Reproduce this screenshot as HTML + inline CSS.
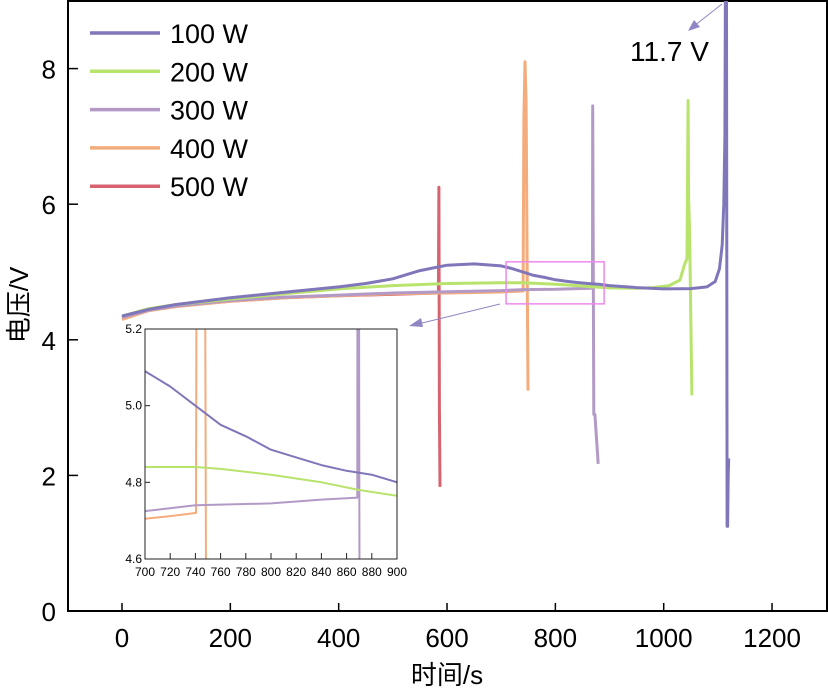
<!DOCTYPE html>
<html><head><meta charset="utf-8"><style>
html,body{margin:0;background:#fff;width:828px;height:697px;overflow:hidden}
svg{display:block;font-family:"Liberation Sans","Noto Sans CJK SC",sans-serif}
</style></head><body>
<svg id="chart" width="828" height="697" viewBox="0 0 828 697"></svg>
<script>
const seriesNames=["100 W","200 W","300 W","400 W","500 W"];
const seriesColors=["#7f77b9","#b8e36c","#b39ac6","#f4ac7c","#d6636f"];
const t100=[0,50,100,200,300,400,450,500,550,600,650,700,720,740,760,780,800,820,840,860,880,900,950,1000,1050,1080,1095,1103,1108,1111,1113,1115,1116,1117,1118,1119,1120];
const v100=[4.35,4.45,4.52,4.62,4.7,4.78,4.83,4.9,5.02,5.1,5.12,5.09,5.05,5.0,4.95,4.92,4.885,4.865,4.845,4.83,4.82,4.80,4.77,4.75,4.755,4.78,4.86,5.05,5.4,6.0,7.0,11.7,9,1.25,1.25,2.0,2.25];
const t200=[0,50,100,200,300,400,500,600,700,740,760,800,840,870,900,950,980,1010,1030,1038,1043,1045,1046,1047,1048,1052];
const v200=[4.35,4.46,4.52,4.6,4.68,4.75,4.8,4.83,4.84,4.84,4.835,4.82,4.80,4.78,4.765,4.76,4.77,4.8,4.88,5.1,5.2,7.53,6.1,5.8,5.5,3.18];
const t300=[0,50,100,200,300,400,500,600,700,740,800,840,867,868.5,869,870,871,873,879];
const v300=[4.33,4.44,4.5,4.58,4.63,4.66,4.69,4.71,4.725,4.74,4.745,4.755,4.76,4.76,7.45,5.0,2.9,2.9,2.17];
const t400=[0,50,100,200,300,400,500,600,700,720,740,740.5,742,744,746,748,749.5];
const v400=[4.3,4.43,4.49,4.57,4.62,4.65,4.68,4.69,4.705,4.712,4.72,4.72,7.3,8.1,7.5,5.0,3.25];
const t500=[0,50,100,200,300,400,500,580,584,585,586,587];
const v500=[4.33,4.44,4.5,4.57,4.62,4.65,4.67,4.69,4.69,6.25,3.0,1.83];
const allT=[t100,t200,t300,t400,t500], allV=[v100,v200,v300,v400,v500];
const xTicks=[0,200,400,600,800,1000,1200], yTicks=[0,2,4,6,8];
const insetXTicks=[700,720,740,760,780,800,820,840,860,880,900], insetYTicks=[4.6,4.8,5.0,5.2];

const NS="http://www.w3.org/2000/svg", svg=document.getElementById("chart");
function el(tag,attrs,parent,text){const e=document.createElementNS(NS,tag);for(const k in attrs)e.setAttribute(k,attrs[k]);if(text!==undefined)e.textContent=text;(parent||svg).appendChild(e);return e;}
const X=t=>122+0.5417*t, Y=v=>611-67.8*v;
const IX=t=>145+(t-700)*252/200, IY=v=>559-(v-4.6)*230/0.6;
const defs=el("defs",{});
const c1=el("clipPath",{id:"mainclip"},defs);el("rect",{x:68,y:1,width:759,height:610},c1);
const c2=el("clipPath",{id:"insclip"},defs);el("rect",{x:145,y:329,width:252,height:230},c2);

const frame=el("rect",{x:68,y:1,width:759,height:610,fill:"none",stroke:"#000","stroke-width":2});

xTicks.forEach(t=>{
  el("line",{x1:X(t),x2:X(t),y1:611,y2:603,stroke:"#000","stroke-width":1.5});
  const l=el("text",{x:X(t),y:647,"font-size":26,"text-anchor":"middle"},svg,t);
  
});
yTicks.forEach(v=>{
  el("line",{x1:68,x2:78,y1:Y(v),y2:Y(v),stroke:"#000","stroke-width":1.5});
  const l=el("text",{x:56,y:Y(v)+10,"font-size":26,"text-anchor":"end"},svg,v);
  
});
const xt=el("text",{x:447,y:684,"font-size":26,"text-anchor":"middle"},svg,"时间/s");

const yt=el("text",{x:0,y:0,"font-size":26,"text-anchor":"middle",transform:"translate(28,305) rotate(-90)"},svg,"电压/V");


const gm=el("g",{"clip-path":"url(#mainclip)"});
for(let i=4;i>=0;i--){
  const pts=allT[i].map((t,j)=>X(t).toFixed(1)+","+Y(allV[i][j]).toFixed(1)).join(" ");
  const p=el("polyline",{points:pts,fill:"none",stroke:seriesColors[i],"stroke-width":3,"stroke-linejoin":"round"},gm);
  
}
const zb=el("rect",{x:X(709),y:Y(5.15),width:X(890)-X(709),height:Y(4.53)-Y(5.15),fill:"none",stroke:"#ee88ee","stroke-width":1.5});

el("line",{x1:500,y1:304,x2:418,y2:324,stroke:"#8f86c4","stroke-width":1});
el("polygon",{points:"409,326 421,318 423,327",fill:"#8f86c4"});
el("line",{x1:722,y1:4,x2:694,y2:26,stroke:"#8f86c4","stroke-width":1});
el("polygon",{points:"688,31 694,20 700,27",fill:"#8f86c4"});
const ann=el("text",{x:630,y:61,"font-size":28},svg,"11.7 V");


seriesNames.forEach((n,i)=>{
  const y=33+i*38.3;
  const g=el("g",{});
  
  el("line",{x1:90,x2:160,y1:y,y2:y,stroke:seriesColors[i],"stroke-width":3.5},g);
  el("text",{x:170,y:y+10,"font-size":27},g,n);
});

const ig=el("g",{});

el("rect",{x:145,y:329,width:252,height:230,fill:"#fff",stroke:"none"},ig);
const gi=el("g",{"clip-path":"url(#insclip)"},ig);
for(let i=4;i>=0;i--){
  const pts=allT[i].map((t,j)=>IX(t).toFixed(1)+","+IY(allV[i][j]).toFixed(1)).join(" ");
  const p=el("polyline",{points:pts,fill:"none",stroke:seriesColors[i],"stroke-width":2,"stroke-linejoin":"round"},gi);
  
}
el("rect",{x:145,y:329,width:252,height:230,fill:"none",stroke:"#222","stroke-width":1},ig);
insetXTicks.forEach(t=>{
  el("line",{x1:IX(t),x2:IX(t),y1:559,y2:553,stroke:"#222","stroke-width":1},ig);
  el("text",{x:IX(t),y:576,"font-size":12,"text-anchor":"middle"},ig,t);
});
insetYTicks.forEach(v=>{
  el("line",{x1:145,x2:150,y1:IY(v),y2:IY(v),stroke:"#222","stroke-width":1},ig);
  el("text",{x:142,y:IY(v)+4,"font-size":12,"text-anchor":"end"},ig,v.toFixed(1));
});
</script>
</body></html>
